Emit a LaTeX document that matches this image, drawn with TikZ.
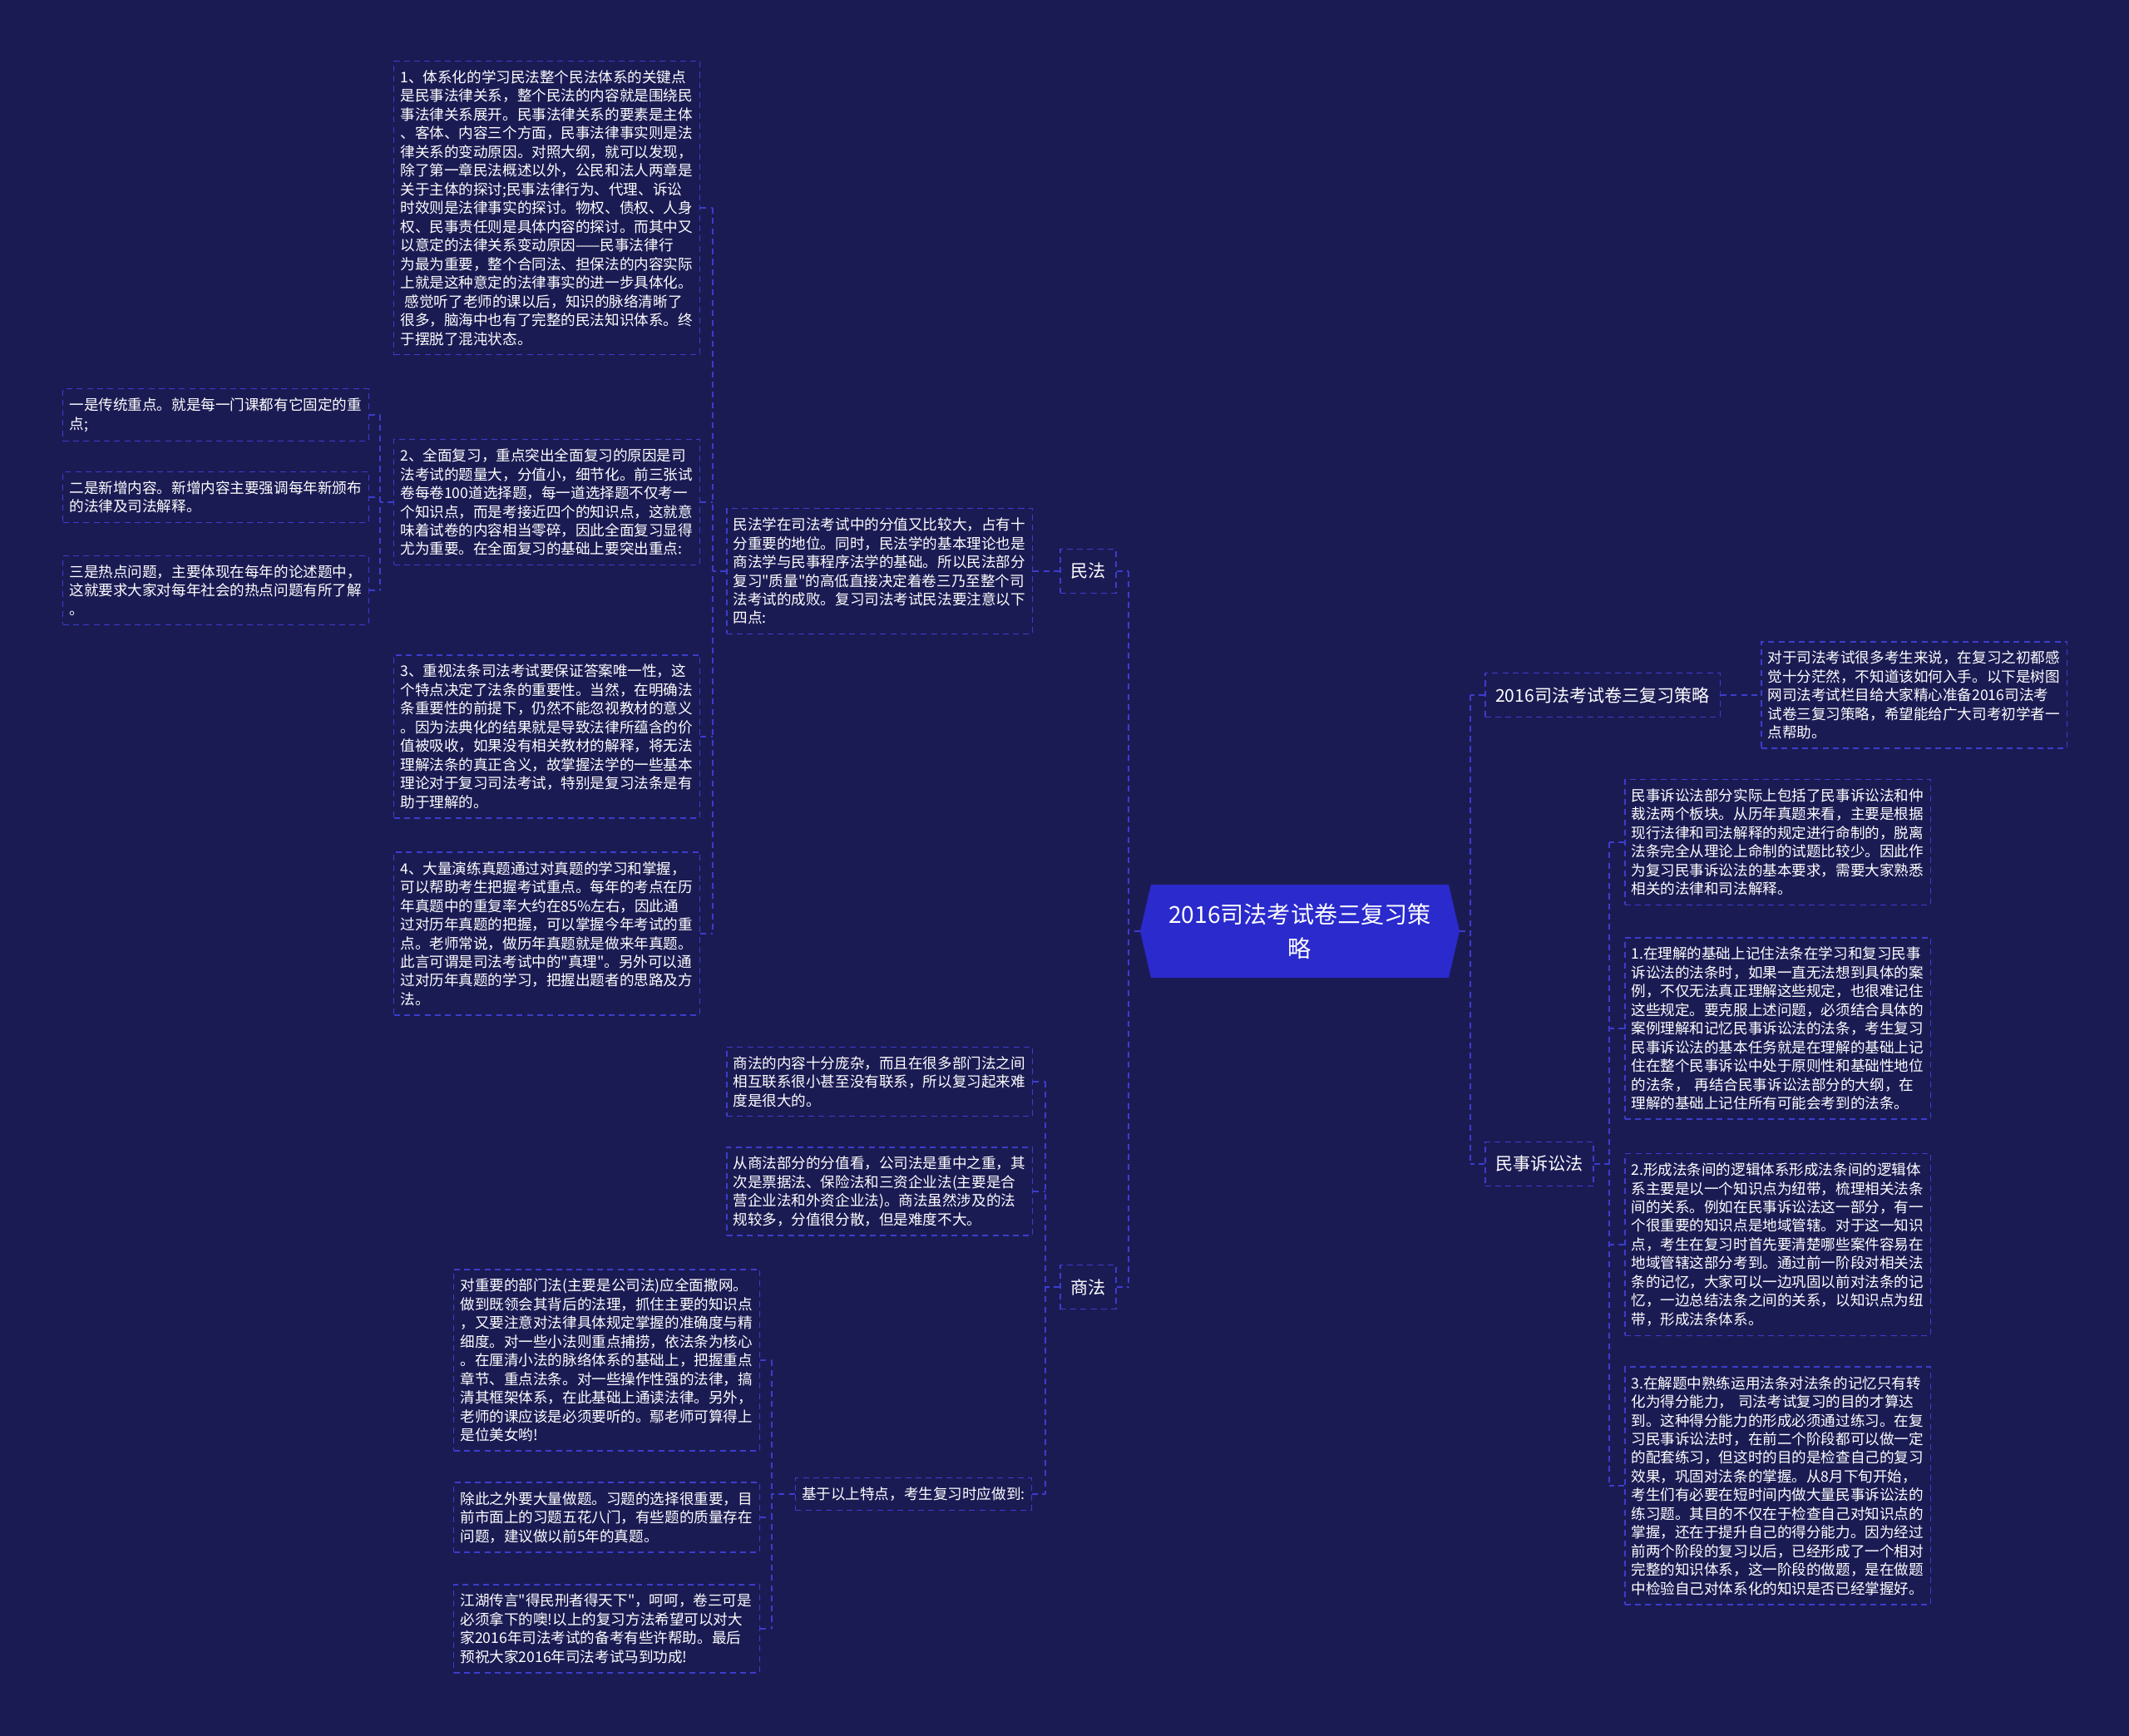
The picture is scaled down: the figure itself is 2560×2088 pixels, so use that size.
\documentclass[tikz,border=0pt]{standalone}
\usepackage{fontspec}
\setmainfont{Noto Sans CJK SC}[Ligatures=TeXOff]
\usetikzlibrary{calc,positioning}
\definecolor{bgnavy}{RGB}{27,27,84}
\definecolor{rootblue}{RGB}{42,42,205}
\definecolor{linkblue}{RGB}{60,60,205}

\begin{document}
\begin{tikzpicture}[x=0.02cm, y=-0.02cm]
    \tikzset{LinkStyle/.style={draw=linkblue, line width=0.85pt, dash pattern=on 4pt off 3pt},
      LeafStyle/.style={LinkStyle, text=white, anchor=west, align=left,
        text width=7.05cm, inner xsep=0.155cm, inner ysep=0.22cm,
        font=\fontsize{10}{12.8}\selectfont},
      BranchStyle/.style={LinkStyle, text=white, minimum height=1.06cm,
        inner xsep=0.25cm, font=\fontsize{12}{14}\selectfont},
      RootStyle/.style={text=white, align=center, inner sep=0pt,
        minimum width=7.68cm, minimum height=2.24cm,
        font=\fontsize{16}{23}\selectfont}}
    \fill[bgnavy] (0,0) rectangle (2560,2088);
    \useasboundingbox (0,0) rectangle (2560,2088);
    % centre
    \fill[rootblue] (1384,1064) -- (1742,1064) -- (1755,1120) -- (1742,1176)
      -- (1384,1176) -- (1371,1120) -- cycle;
    \node[RootStyle] (root) at (1563,1120) {2016司法考试卷三复习策\\略};
    % branches
    \node[BranchStyle, anchor=west] (minfa) at (1274,687) {民法};
    \node[BranchStyle, anchor=west] (shangfa) at (1274,1548) {商法};
    \node[BranchStyle, anchor=west] (celue) at (1785,836) {2016司法考试卷三复习策略};
    \node[BranchStyle, anchor=west] (minsu) at (1785,1400) {民事诉讼法};
    % 民法
    \node[LeafStyle] (minfaIntro) at (873,687) {民法学在司法考试中的分值又比较大，占有十\\分重要的地位。同时，民法学的基本理论也是\\商法学与民事程序法学的基础。所以民法部分\\复习"质量"的高低直接决定着卷三乃至整个司\\法考试的成败。复习司法考试民法要注意以下\\四点:};
    \node[LeafStyle] (minfaA) at (473,250) {1、体系化的学习民法整个民法体系的关键点\\是民事法律关系，整个民法的内容就是围绕民\\事法律关系展开。民事法律关系的要素是主体\\、客体、内容三个方面，民事法律事实则是法\\律关系的变动原因。对照大纲，就可以发现，\\除了第一章民法概述以外，公民和法人两章是\\关于主体的探讨;民事法律行为、代理、诉讼\\时效则是法律事实的探讨。物权、债权、人身\\权、民事责任则是具体内容的探讨。而其中又\\以意定的法律关系变动原因——民事法律行\\为最为重要，整个合同法、担保法的内容实际\\上就是这种意定的法律事实的进一步具体化。\\\hspace*{0.3em}感觉听了老师的课以后，知识的脉络清晰了\\很多，脑海中也有了完整的民法知识体系。终\\于摆脱了混沌状态。};
    \node[LeafStyle] (minfaB) at (473,604) {2、全面复习，重点突出全面复习的原因是司\\法考试的题量大，分值小，细节化。前三张试\\卷每卷100道选择题，每一道选择题不仅考一\\个知识点，而是考接近四个的知识点，这就意\\味着试卷的内容相当零碎，因此全面复习显得\\尤为重要。在全面复习的基础上要突出重点:};
    \node[LeafStyle] (minfaC) at (473,886) {3、重视法条司法考试要保证答案唯一性，这\\个特点决定了法条的重要性。当然，在明确法\\条重要性的前提下，仍然不能忽视教材的意义\\。因为法典化的结果就是导致法律所蕴含的价\\值被吸收，如果没有相关教材的解释，将无法\\理解法条的真正含义，故掌握法学的一些基本\\理论对于复习司法考试，特别是复习法条是有\\助于理解的。};
    \node[LeafStyle] (minfaD) at (473,1123) {4、大量演练真题通过对真题的学习和掌握，\\可以帮助考生把握考试重点。每年的考点在历\\年真题中的重复率大约在85\%左右，因此通\\过对历年真题的把握，可以掌握今年考试的重\\点。老师常说，做历年真题就是做来年真题。\\此言可谓是司法考试中的"真理"。另外可以通\\过对历年真题的学习，把握出题者的思路及方\\法。};
    \node[LeafStyle] (zhongdianA) at (75,499) {一是传统重点。就是每一门课都有它固定的重\\点;};
    \node[LeafStyle] (zhongdianB) at (75,598) {二是新增内容。新增内容主要强调每年新颁布\\的法律及司法解释。};
    \node[LeafStyle] (zhongdianC) at (75,710) {三是热点问题，主要体现在每年的论述题中，\\这就要求大家对每年社会的热点问题有所了解\\。};
    % 商法
    \node[LeafStyle] (shangfaA) at (873,1301) {商法的内容十分庞杂，而且在很多部门法之间\\相互联系很小甚至没有联系，所以复习起来难\\度是很大的。};
    \node[LeafStyle] (shangfaB) at (873,1433) {从商法部分的分值看，公司法是重中之重，其\\次是票据法、保险法和三资企业法(主要是合\\营企业法和外资企业法)。商法虽然涉及的法\\规较多，分值很分散，但是难度不大。};
    \node[LeafStyle, text width=, anchor=east] (shangfaBase) at (1241,1797) {基于以上特点，考生复习时应做到:};
    \node[LeafStyle] (shangfaX) at (545,1636) {对重要的部门法(主要是公司法)应全面撒网。\\做到既领会其背后的法理，抓住主要的知识点\\，又要注意对法律具体规定掌握的准确度与精\\细度。对一些小法则重点捕捞，依法条为核心\\。在厘清小法的脉络体系的基础上，把握重点\\章节、重点法条。对一些操作性强的法律，搞\\清其框架体系，在此基础上通读法律。另外，\\老师的课应该是必须要听的。鄢老师可算得上\\是位美女哟!};
    \node[LeafStyle] (shangfaY) at (545,1825) {除此之外要大量做题。习题的选择很重要，目\\前市面上的习题五花八门，有些题的质量存在\\问题，建议做以前5年的真题。};
    \node[LeafStyle] (shangfaZ) at (545,1959) {江湖传言"得民刑者得天下"，呵呵，卷三可是\\必须拿下的噢!以上的复习方法希望可以对大\\家2016年司法考试的备考有些许帮助。最后\\预祝大家2016年司法考试马到功成!};
    % right side
    \node[LeafStyle] (celueIntro) at (2117,836) {对于司法考试很多考生来说，在复习之初都感\\觉十分茫然，不知道该如何入手。以下是树图\\网司法考试栏目给大家精心准备2016司法考\\试卷三复习策略，希望能给广大司考初学者一\\点帮助。};
    \node[LeafStyle] (minsuIntro) at (1953,1013) {民事诉讼法部分实际上包括了民事诉讼法和仲\\裁法两个板块。从历年真题来看，主要是根据\\现行法律和司法解释的规定进行命制的，脱离\\法条完全从理论上命制的试题比较少。因此作\\为复习民事诉讼法的基本要求，需要大家熟悉\\相关的法律和司法解释。};
    \node[LeafStyle] (minsuA) at (1953,1237) {1.在理解的基础上记住法条在学习和复习民事\\诉讼法的法条时，如果一直无法想到具体的案\\例，不仅无法真正理解这些规定，也很难记住\\这些规定。要克服上述问题，必须结合具体的\\案例理解和记忆民事诉讼法的法条，考生复习\\民事诉讼法的基本任务就是在理解的基础上记\\住在整个民事诉讼中处于原则性和基础性地位\\的法条，\ 再结合民事诉讼法部分的大纲，在\\理解的基础上记住所有可能会考到的法条。};
    \node[LeafStyle] (minsuB) at (1953,1497) {2.形成法条间的逻辑体系形成法条间的逻辑体\\系主要是以一个知识点为纽带，梳理相关法条\\间的关系。例如在民事诉讼法这一部分，有一\\个很重要的知识点是地域管辖。对于这一知识\\点，考生在复习时首先要清楚哪些案件容易在\\地域管辖这部分考到。通过前一阶段对相关法\\条的记忆，大家可以一边巩固以前对法条的记\\忆，一边总结法条之间的关系，以知识点为纽\\带，形成法条体系。};
    \node[LeafStyle] (minsuC) at (1953,1787) {3.在解题中熟练运用法条对法条的记忆只有转\\化为得分能力，\ 司法考试复习的目的才算达\\到。这种得分能力的形成必须通过练习。在复\\习民事诉讼法时，在前二个阶段都可以做一定\\的配套练习，但这时的目的是检查自己的复习\\效果，巩固对法条的掌握。从8月下旬开始，\\考生们有必要在短时间内做大量民事诉讼法的\\练习题。其目的不仅在于检查自己对知识点的\\掌握，还在于提升自己的得分能力。因为经过\\前两个阶段的复习以后，已经形成了一个相对\\完整的知识体系，这一阶段的做题，是在做题\\中检验自己对体系化的知识是否已经掌握好。};
    % connectors
    \coordinate (lbus) at (1357,1120);
    \coordinate (rbus) at (1768,1120);
    \coordinate (mbus) at (857,687);
    \coordinate (zbus) at (457,604);
    \coordinate (sbus) at (1257,1548);
    \coordinate (jbus) at (928,1797);
    \coordinate (nbus) at (1935,1400);
    \draw[LinkStyle] (root.west) -- (lbus);
    \draw[LinkStyle] (minfa.east -| lbus) -- (shangfa.east -| lbus);
    \foreach \n in {minfa,shangfa}
      \draw[LinkStyle] (\n.east) -- (\n.east -| lbus);
    \draw[LinkStyle] (root.east) -- (rbus);
    \draw[LinkStyle] (celue.west -| rbus) -- (minsu.west -| rbus);
    \foreach \n in {celue,minsu}
      \draw[LinkStyle] (\n.west) -- (\n.west -| rbus);
    \draw[LinkStyle] (minfa.west) -- (minfaIntro.east);
    \draw[LinkStyle] (celue.east) -- (celueIntro.west);
    \draw[LinkStyle] (minfaIntro.west) -- (mbus);
    \draw[LinkStyle] (minfaA.east -| mbus) -- (minfaD.east -| mbus);
    \foreach \n in {minfaA,minfaB,minfaC,minfaD}
      \draw[LinkStyle] (\n.east) -- (\n.east -| mbus);
    \draw[LinkStyle] (minfaB.west) -- (zbus);
    \draw[LinkStyle] (zhongdianA.east -| zbus) -- (zhongdianC.east -| zbus);
    \foreach \n in {zhongdianA,zhongdianB,zhongdianC}
      \draw[LinkStyle] (\n.east) -- (\n.east -| zbus);
    \draw[LinkStyle] (shangfa.west) -- (sbus);
    \draw[LinkStyle] (shangfaA.east -| sbus) -- (shangfaBase.east -| sbus);
    \foreach \n in {shangfaA,shangfaB,shangfaBase}
      \draw[LinkStyle] (\n.east) -- (\n.east -| sbus);
    \draw[LinkStyle] (shangfaBase.west) -- (jbus);
    \draw[LinkStyle] (shangfaX.east -| jbus) -- (shangfaZ.east -| jbus);
    \foreach \n in {shangfaX,shangfaY,shangfaZ}
      \draw[LinkStyle] (\n.east) -- (\n.east -| jbus);
    \draw[LinkStyle] (minsu.east) -- (nbus);
    \draw[LinkStyle] (minsuIntro.west -| nbus) -- (minsuC.west -| nbus);
    \foreach \n in {minsuIntro,minsuA,minsuB,minsuC}
      \draw[LinkStyle] (\n.west) -- (\n.west -| nbus);
\end{tikzpicture}
\end{document}
